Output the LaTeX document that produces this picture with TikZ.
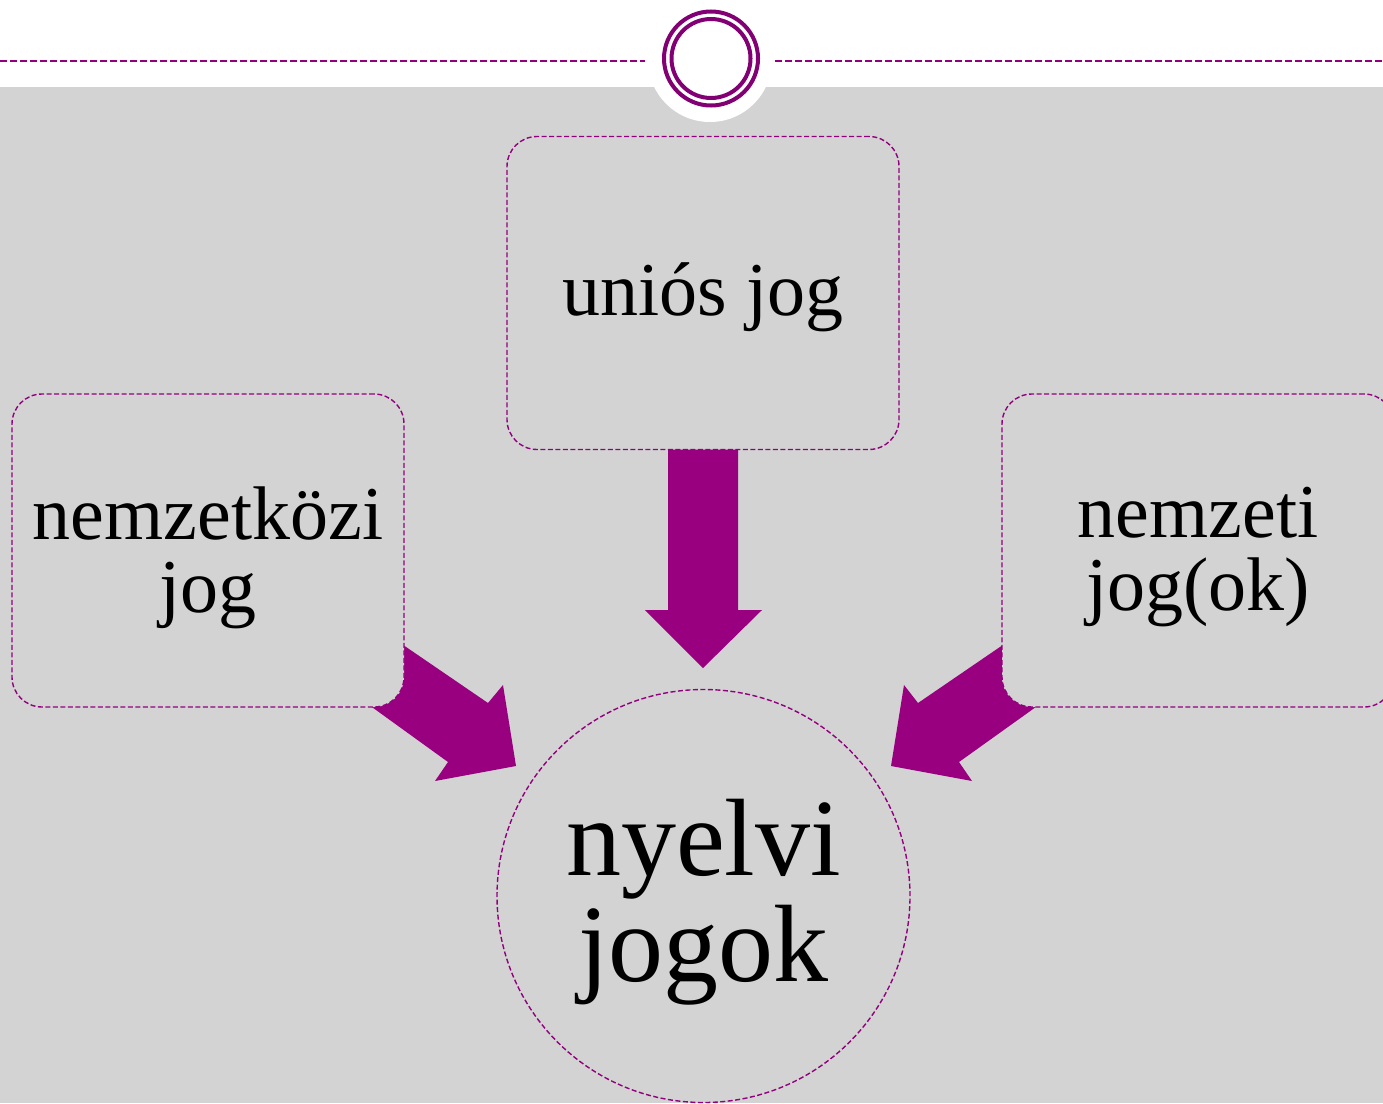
\documentclass[tikz,border=0pt]{standalone}
\usepackage{fontspec}
\setmainfont{Liberation Serif}
\definecolor{bgray}{RGB}{211,211,211}
\definecolor{arrowc}{RGB}{153,0,128}
\definecolor{linec}{RGB}{145,0,125}
\definecolor{ringc}{RGB}{130,0,115}
\begin{document}
\begin{tikzpicture}[x=1pt,y=-1pt,
  box/.style={draw=linec, dash pattern=on 5pt off 2.5pt, line width=1.4pt,
    rounded corners=30pt, fill=bgray, minimum width=392pt, minimum height=313pt,
    inner sep=0pt},
  boxtext/.style={align=center, inner sep=0pt, font=\fontsize{76}{73}\selectfont},
  bigcirc/.style={draw=linec, dash pattern=on 5pt off 2.5pt, line width=1.4pt,
    circle, fill=bgray, minimum size=413pt, inner sep=0pt},
  circtext/.style={align=center, inner sep=0pt, font=\fontsize{110}{106}\selectfont},
  blockarrow/.style={fill=arrowc, draw=none},
  topline/.style={draw=linec, line width=2pt, dash pattern=on 7pt off 3pt},
  ring/.style={draw=ringc, line width=4pt}]
\useasboundingbox (0,0) rectangle (1383,1103);
\fill[white] (0,0) rectangle (1383,1103);
\fill[bgray] (0,87) rectangle (1383,1103);
\fill[white] (710,60) circle (62pt);
% top line and rings
\coordinate (l0) at (0,61);
\coordinate (l1) at (645,61);
\coordinate (r0) at (775,61);
\coordinate (r1) at (1383,61);
\draw[topline] (l0) -- (l1);
\draw[topline] (r0) -- (r1);
\node[circle, minimum size=94pt, inner sep=0pt, ring] (ringout) at (711,58.5) {};
\node[circle, minimum size=79pt, inner sep=0pt, ring] (ringin) at (711,58.5) {};
% block arrows (drawn below the boxes)
\fill[blockarrow] (668,430) -- (738,430) -- (738,610) -- (762,610) -- (703,668) -- (645,610) -- (668,610) -- cycle;
\fill[blockarrow] (371,623) -- (488,703) -- (503,685) -- (516,766) -- (435,781) -- (448,762) -- (340,684) -- cycle;
\fill[blockarrow] (1035,623) -- (918,703) -- (904,685) -- (891,766) -- (972,781) -- (959,762) -- (1068,684) -- cycle;
% boxes
\node[box] (top) at (703,293) {};
\node[box] (left) at (208,550.5) {};
\node[box] (right) at (1198,550.5) {};
\node[bigcirc] (center) at (703.5,896) {};
\node[boxtext, yshift=-4pt] (toptext) at (top.center) {uniós jog};
\node[boxtext, yshift=-7pt] (lefttext) at (left.center) {nemzetközi\\jog};
\node[boxtext, yshift=-7pt] (righttext) at (right.center) {nemzeti\\jog(ok)};
\node[circtext, yshift=-6pt] (centertext) at (center.center) {nyelvi\\jogok};
\end{tikzpicture}
\end{document}
